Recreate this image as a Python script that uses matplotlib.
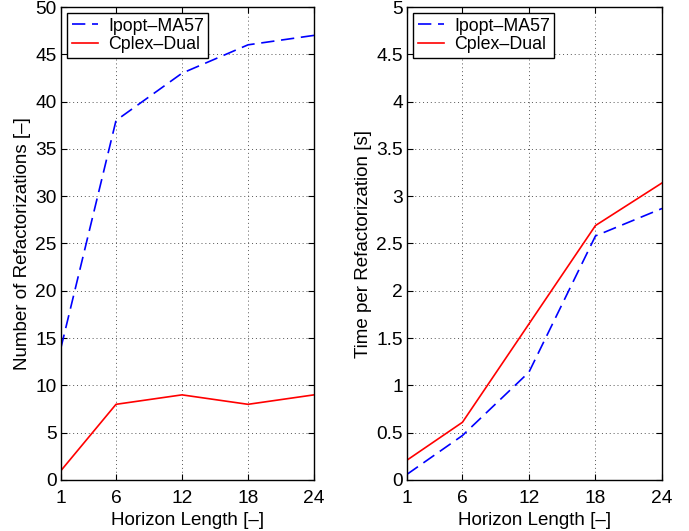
import matplotlib
matplotlib.use("Agg")
import matplotlib.pyplot as plt

plt.rcParams['font.family'] = ['Liberation Sans', 'DejaVu Sans']

horizon = [1, 6, 12, 18, 24]
xticks = [1, 6, 12, 18, 24]
ipopt_refact = [14, 38, 43, 46, 47]
cplex_refact = [1, 8, 9, 8, 9]
ipopt_time = [0.06, 0.47, 1.14, 2.58, 2.87]
cplex_time = [0.21, 0.61, 1.65, 2.69, 3.14]

labels = ['Ipopt–MA57', 'Cplex–Dual']

fig = plt.figure(figsize=(6.89, 5.31), dpi=100)
W, H = 689, 531
ax1 = fig.add_axes([61 / W, 1 - 480 / H, (314 - 61) / W, (480 - 7) / H])
ax2 = fig.add_axes([407 / W, 1 - 480 / H, (662 - 407) / W, (480 - 7) / H])

DASH = (0, (8, 4))

def style(ax, ylim, yticks, ylabel):
    ax.set_xlim(1, 24)
    ax.set_ylim(*ylim)
    ax.set_xticks(xticks)
    ax.set_yticks(yticks)
    ax.set_yticklabels([f'{v:g}' for v in yticks])
    ax.grid(True, linestyle=(0, (1, 3)), color='#555555', linewidth=0.7)
    ax.tick_params(direction='in', top=True, right=True, labelsize=13.8, length=4, width=0.8)
    ax.tick_params(axis='y', pad=3)
    ax.tick_params(axis='x', pad=7)
    for s in ax.spines.values():
        s.set_linewidth(1.0)
    ax.set_xlabel('Horizon Length [–]', fontsize=13.5, labelpad=4)
    ax.set_ylabel(ylabel, fontsize=13.5, labelpad=3)
    leg = ax.legend(loc='upper left', fontsize=12.8, frameon=True, fancybox=False,
                    edgecolor='black', framealpha=1, borderpad=0.25, labelspacing=0.1,
                    handlelength=1.5, handletextpad=0.55, borderaxespad=0.35)
    leg.get_frame().set_linewidth(1.0)

ax1.plot(horizon, ipopt_refact, color='blue', linestyle=DASH, linewidth=1.2, label=labels[0])
ax1.plot(horizon, cplex_refact, color='red', linestyle='-', linewidth=1.2, label=labels[1])
style(ax1, (0, 50), list(range(0, 51, 5)), 'Number of Refactorizations [–]')

ax2.plot(horizon, ipopt_time, color='blue', linestyle=DASH, linewidth=1.2, label=labels[0])
ax2.plot(horizon, cplex_time, color='red', linestyle='-', linewidth=1.2, label=labels[1])
style(ax2, (0, 5), [i * 0.5 for i in range(11)], 'Time per Refactorization [s]')

fig.savefig('out.png', dpi=100)
